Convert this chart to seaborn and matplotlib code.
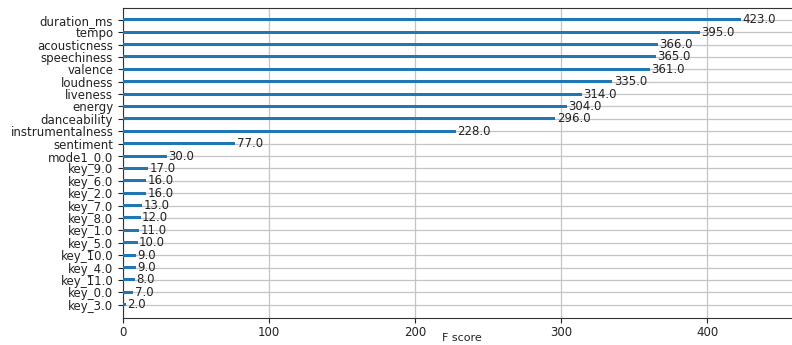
import matplotlib
matplotlib.use("Agg")
import matplotlib.pyplot as plt
import seaborn as sns
import pandas as pd

features = [
    "duration_ms", "tempo", "acousticness", "speechiness", "valence",
    "loudness", "liveness", "energy", "danceability", "instrumentalness",
    "sentiment", "mode1_0.0", "key_9.0", "key_6.0", "key_2.0", "key_7.0",
    "key_8.0", "key_1.0", "key_5.0", "key_10.0", "key_4.0", "key_11.0",
    "key_0.0", "key_3.0",
]
f_scores = [
    423.0, 395.0, 366.0, 365.0, 361.0, 335.0, 314.0, 304.0, 296.0, 228.0,
    77.0, 30.0, 17.0, 16.0, 16.0, 13.0, 12.0, 11.0, 10.0, 9.0, 9.0, 8.0,
    7.0, 2.0,
]
x_ticks = [0, 100, 200, 300, 400]

df = pd.DataFrame({"feature": features, "score": f_scores})

sns.set_style("white")
plt.rcParams["font.family"] = ["DejaVu Sans"]

fig = plt.figure(figsize=(7.92, 3.45), dpi=100)
ax = fig.add_axes([0.1553, 0.0791, 0.858, 0.8977])

sns.barplot(data=df, x="score", y="feature", orient="h", width=0.24,
            color="#1f77b4", saturation=1, linewidth=0, ax=ax)
for p in ax.patches:
    p.set_zorder(3)

for i, v in enumerate(df["score"]):
    ax.text(v + 1, i, f"{v:.1f}", va="center", fontsize=8.5,
            color="#222222", zorder=4)

n = len(features)
ax.set_ylim(n - 1 + 1.05, -0.95)
ax.set_xlim(0, max(f_scores) * 1.1)
ax.set_xticks(x_ticks)
ax.grid(True, color="#c4c4c4", linewidth=0.9, zorder=0)
ax.set_axisbelow(True)
ax.set_xlabel("")
ax.set_ylabel("")
fig.text(0.5833, 0.005, "F score", ha="center", va="bottom", fontsize=8,
         color="#222222")
ax.tick_params(axis="both", labelsize=8.5, length=3.5, width=0.8,
               left=True, bottom=True, colors="#222222")
ax.tick_params(axis="x", pad=2.5)
for s in ax.spines.values():
    s.set_color("#333333")
    s.set_linewidth(0.8)

fig.savefig("out.png", dpi=100)
